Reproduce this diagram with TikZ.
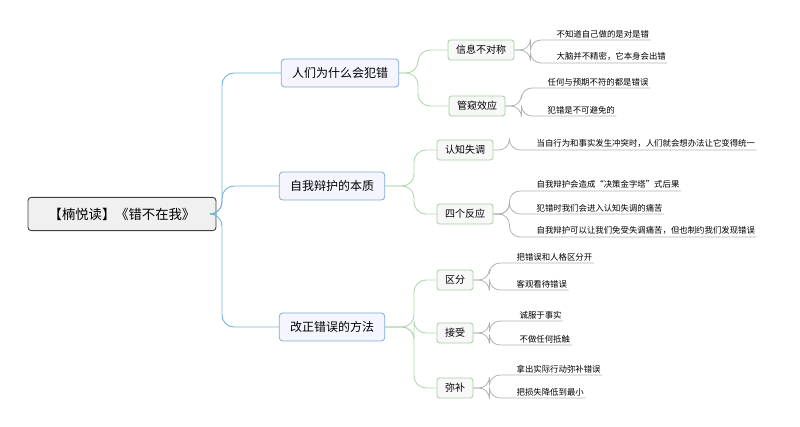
\documentclass[tikz,border=0pt]{standalone}
\usepackage{fontspec}
\setmainfont{Noto Sans CJK SC}
\begin{document}
\begin{tikzpicture}[x=0.75pt,y=-0.75pt,
 root/.style={draw=black!75,fill=black!6,rounded corners=2.5pt,line width=0.7pt,minimum width=141pt,minimum height=25pt,font=\fontsize{10}{12}\selectfont},
 lone/.style={draw=blue!45!cyan!60!black!50,fill=blue!4,rounded corners=2.5pt,line width=0.6pt,minimum height=21pt,font=\fontsize{9}{11}\selectfont,inner xsep=8pt},
 ltwo/.style={draw=green!45!black!35,fill=green!15!black!3,rounded corners=2pt,line width=0.6pt,minimum height=15pt,font=\fontsize{7.5}{9}\selectfont,inner xsep=6pt},
 leaf/.style={anchor=south west,inner xsep=1pt,inner ysep=1.5pt,font=\fontsize{6.3}{7.5}\selectfont},
 bl/.style={draw=blue!30!cyan!70!black!55,line width=0.7pt,rounded corners=9pt},
 gl/.style={draw=green!50!black!30,line width=0.7pt,rounded corners=9pt},
 ll/.style={draw=black!30,line width=0.6pt,rounded corners=8pt}]
\useasboundingbox (0,0) rectangle (800,427);
\node[root] (r) at (122,214) {【楠悦读】《错不在我》};
\node[lone] (a) at (340,73) {人们为什么会犯错};
\node[lone] (b) at (332,186) {自我辩护的本质};
\node[lone] (c) at (332,327) {改正错误的方法};
\foreach \n in {a,b,c} \draw[bl] (r.east) -- (222,214) |- (\n.west);
\node[ltwo] (a1) at (481,50) {信息不对称};
\node[ltwo] (a2) at (477,106) {管窥效应};
\node[ltwo] (b1) at (465,150) {认知失调};
\node[ltwo] (b2) at (465,214) {四个反应};
\node[ltwo] (c1) at (455,280) {区分};
\node[ltwo] (c2) at (455,333) {接受};
\node[ltwo] (c3) at (455,388) {弥补};
\foreach \n in {a1,a2} \draw[gl] (a.east) -- (418,73) |- (\n.west);
\foreach \n in {b1,b2} \draw[gl] (b.east) -- (414,186) |- (\n.west);
\foreach \n in {c1,c2,c3} \draw[gl] (c.east) -- (414,327) |- (\n.west);
\newcommand{\lf}[5]{\node[leaf] (#1) at (#3,#4) {#5};
 \draw[ll] (#2.east) -- ([xshift=12]#2.east) |- (#1.south west) -- (#1.south east);}
\lf{a11}{a1}{555}{40}{不知道自己做的是对是错}
\lf{a12}{a1}{555}{63}{大脑并不精密，它本身会出错}
\lf{a21}{a2}{546}{88}{任何与预期不符的都是错误}
\lf{a22}{a2}{546}{116}{犯错是不可避免的}
\lf{b11}{b1}{535}{150}{当自行为和事实发生冲突时，人们就会想办法让它变得统一}
\lf{b21}{b2}{535}{191}{自我辩护会造成“决策金字塔”式后果}
\lf{b22}{b2}{535}{214}{犯错时我们会进入认知失调的痛苦}
\lf{b23}{b2}{535}{237}{自我辩护可以让我们免受失调痛苦，但也制约我们发现错误}
\lf{c11}{c1}{515}{263}{把错误和人格区分开}
\lf{c12}{c1}{515}{290}{客观看待错误}
\lf{c21}{c2}{518}{321}{诚服于事实}
\lf{c22}{c2}{518}{345}{不做任何抵触}
\lf{c31}{c3}{515}{375}{拿出实际行动弥补错误}
\lf{c32}{c3}{515}{398}{把损失降低到最小}
\end{tikzpicture}
\end{document}
